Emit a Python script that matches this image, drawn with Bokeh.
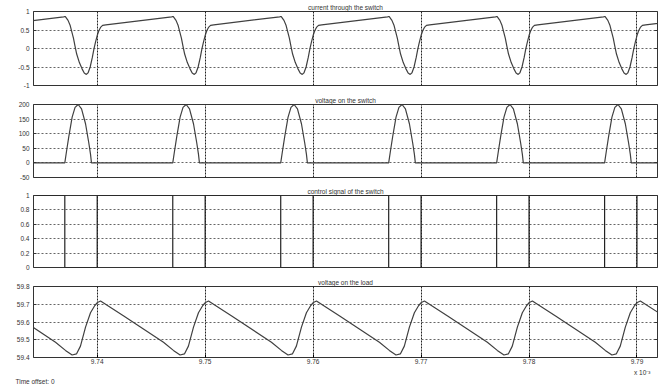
from bokeh.plotting import figure
from bokeh.models import Range1d, FixedTicker, LinearAxis, Title
from bokeh.layouts import column
from bokeh.embed import file_html
from bokeh.resources import INLINE

# ---------------- data (time axis in units of 1e-3 s) ----------------
x_start, x_end = 9.7341, 9.7919
x_ticks = [9.74, 9.75, 9.76, 9.77, 9.78, 9.79]
x_tick_labels = ["9.74", "9.75", "9.76", "9.77", "9.78", "9.79"]
period = 0.01
period_starts = [9.72, 9.73, 9.74, 9.75, 9.76, 9.77, 9.78, 9.79]

# one switching period, phase (0..1) -> value
current_phase = [0.00, 0.015, 0.031, 0.05, 0.08, 0.69, 0.70, 0.705, 0.73, 0.75, 0.765, 0.78,
                 0.795, 0.81, 0.835, 0.86, 0.88, 0.90, 0.915, 0.935, 0.955, 0.97, 0.985]
current_vals = [0.35, 0.48, 0.57, 0.625, 0.64, 0.855, 0.865, 0.86, 0.76, 0.62, 0.45, 0.28,
                0.06, -0.15, -0.38, -0.55, -0.66, -0.70, -0.66, -0.50, -0.24, -0.01, 0.18]

vsw_phase = [0.00, 0.70, 0.716, 0.737, 0.768, 0.795, 0.824, 0.855, 0.892, 0.922, 0.938, 0.947]
vsw_vals = [0, 0, 40, 90, 157, 190, 200, 185, 134, 69, 30, 0]

ctrl_phase = [0.00, 0.70, 0.70, 0.9999]
ctrl_vals = [1, 1, 0, 0]

load_phase = [0.003, 0.031, 0.246, 0.614, 0.706, 0.768, 0.808, 0.845, 0.892, 0.938, 0.978]
load_vals = [59.71, 59.718, 59.634, 59.486, 59.44, 59.414, 59.42, 59.464, 59.571, 59.652, 59.693]

current_ticks = [-1, -0.5, 0, 0.5, 1]
current_labels = ["-1", "-0.5", "0", "0.5", "1"]
vsw_ticks = [-50, 0, 50, 100, 150, 200]
vsw_labels = ["-50", "0", "50", "100", "150", "200"]
ctrl_ticks = [0, 0.2, 0.4, 0.6, 0.8, 1]
ctrl_labels = ["0", "0.2", "0.4", "0.6", "0.8", "1"]
load_ticks = [59.4, 59.5, 59.6, 59.7, 59.8]
load_labels = ["59.4", "59.5", "59.6", "59.7", "59.8"]

titles = ["current through the switch", "voltage on the switch",
          "control signal of the switch", "voltage on the load"]
x_scale_text = "x 10\u207b\u00b3"
offset_text = "Time offset: 0"

FONT = "Liberation Sans"
TXT = "#333333"
LINE = "#404040"


def tile(phases, vals):
    ts, vs = [], []
    for s in period_starts:
        for ph, v in zip(phases, vals):
            ts.append(s + ph * period)
            vs.append(v)
    return ts, vs


def make_title(text, align, standoff, offset):
    return Title(text=text, align=align, text_font=FONT, text_font_size="6.5px",
                 text_font_style="normal", text_color=TXT, text_line_height=1.0,
                 standoff=standoff, offset=offset)


def make_fig(title, y0, y1, yticks, ylabels, height, top, bottom, show_x):
    p = figure(width=664, height=height, output_backend="svg", toolbar_location=None,
               x_range=Range1d(x_start, x_end), y_range=Range1d(y0, y1),
               min_border_left=33, min_border_right=7,
               min_border_top=top, min_border_bottom=bottom)
    p.title = None
    p.add_layout(make_title(title, "center", 2, 0), "above")
    p.background_fill_color = "white"
    p.border_fill_color = "white"
    p.outline_line_color = "#333333"
    p.outline_line_width = 1

    p.yaxis.ticker = FixedTicker(ticks=yticks)
    p.yaxis.major_label_overrides = {k: l for k, l in zip(yticks, ylabels)}
    p.yaxis.major_label_text_font = FONT
    p.yaxis.major_label_text_font_size = "6.5px"
    p.yaxis.major_label_text_color = TXT
    p.yaxis.major_tick_in = 3
    p.yaxis.major_tick_out = 0
    p.yaxis.minor_tick_line_color = None
    p.yaxis.axis_line_color = None
    p.yaxis.major_tick_line_color = "#333333"
    p.yaxis.major_label_standoff = 4

    ra = LinearAxis(ticker=FixedTicker(ticks=yticks), major_label_text_font_size="0px",
                    major_label_standoff=0, major_tick_in=3, major_tick_out=0,
                    minor_tick_line_color=None, axis_line_color=None,
                    major_tick_line_color="#333333")
    ra.major_label_overrides = {k: "" for k in yticks}
    p.add_layout(ra, "right")

    p.ygrid.ticker = FixedTicker(ticks=yticks)
    p.ygrid.grid_line_color = "#666666"
    p.ygrid.grid_line_dash = "2 2"
    p.ygrid.grid_line_width = 1

    if show_x:
        p.xaxis.ticker = FixedTicker(ticks=x_ticks)
        p.xaxis.major_label_overrides = {k: l for k, l in zip(x_ticks, x_tick_labels)}
        p.xaxis.major_label_text_font = FONT
        p.xaxis.major_label_text_font_size = "6.5px"
        p.xaxis.major_label_text_color = TXT
        p.xaxis.major_tick_in = 3
        p.xaxis.major_tick_out = 0
        p.xaxis.minor_tick_line_color = None
        p.xaxis.axis_line_color = None
        p.xaxis.major_label_standoff = 1
    else:
        p.xaxis.visible = False
    p.xgrid.ticker = FixedTicker(ticks=x_ticks)
    p.xgrid.grid_line_color = "#222222"
    p.xgrid.grid_line_dash = "2 1"
    p.xgrid.grid_line_width = 1
    return p


p1 = make_fig(titles[0], -1, 1, current_ticks, current_labels, 93, 11, 8, False)
t, v = tile(current_phase, current_vals)
p1.line(t, v, line_color=LINE, line_width=1.2)

p2 = make_fig(titles[1], -50, 200, vsw_ticks, vsw_labels, 91, 9, 7, False)
t, v = tile(vsw_phase, vsw_vals)
p2.line(t, v, line_color=LINE, line_width=1.2)

p3 = make_fig(titles[2], 0, 1, ctrl_ticks, ctrl_labels, 91, 9, 8, False)
t, v = tile(ctrl_phase, ctrl_vals)
p3.line(t, v, line_color="#222222", line_width=1.2)

p4 = make_fig(titles[3], 59.4, 59.8, load_ticks, load_labels, 110, 9, 26, True)
t, v = tile(load_phase, load_vals)
p4.line(t, v, line_color=LINE, line_width=1.2)

p4.add_layout(make_title(x_scale_text, "right", 0, 7), "below")
p4.add_layout(make_title(offset_text, "left", 1, -18), "below")

layout = column(p1, p2, p3, p4, spacing=0)
open("out.html", "w").write(file_html(layout, INLINE))
